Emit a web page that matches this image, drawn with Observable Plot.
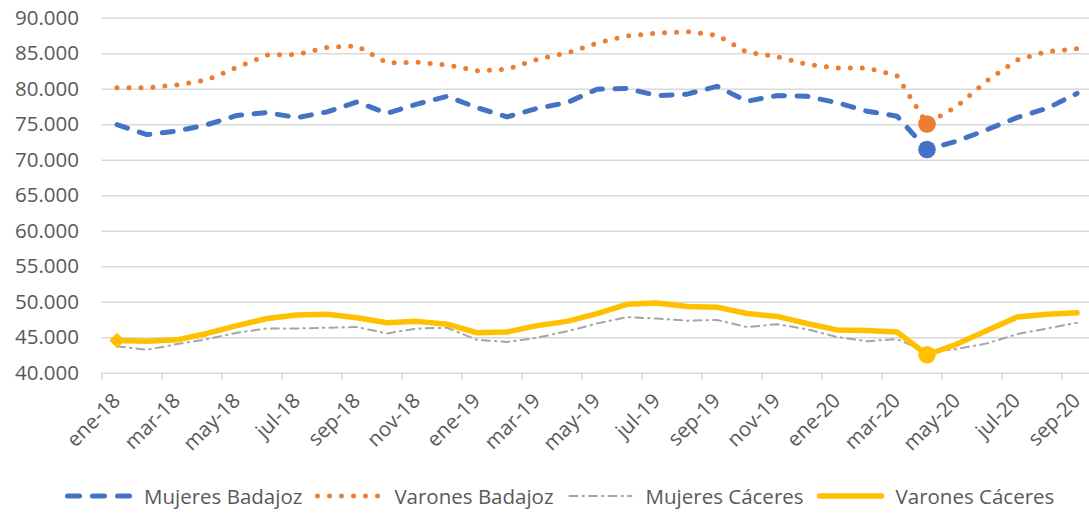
<!DOCTYPE html>
<html>
<head>
<meta charset="utf-8">
<script src="https://cdn.jsdelivr.net/npm/d3@7"></script>
<script src="https://cdn.jsdelivr.net/npm/@observablehq/plot@0.6"></script>
<style>
  html, body { margin: 0; padding: 0; background: #fff; }
  #chart { width: 1089px; height: 516px; overflow: hidden; position: relative; }
  .legend { height: 41px; display: flex; align-items: center; padding-left: 65px;
            font-family: "Open Sans", sans-serif; font-size: 20.5px; color: #595959; }
  .legend .item { display: flex; align-items: center; margin-right: 13px; }
  .legend svg { margin-right: 12px; overflow: visible; }
</style>
</head>
<body>
<div id="chart"></div>
<script>
const months = ["ene-18","feb-18","mar-18","abr-18","may-18","jun-18","jul-18","ago-18","sep-18","oct-18","nov-18","dic-18",
                "ene-19","feb-19","mar-19","abr-19","may-19","jun-19","jul-19","ago-19","sep-19","oct-19","nov-19","dic-19",
                "ene-20","feb-20","mar-20","abr-20","may-20","jun-20","jul-20","ago-20","sep-20"];

const mujeresBadajoz = [75000,73600,74100,75000,76300,76700,76000,76800,78200,76600,77900,79000,
                        77400,76100,77300,78100,80000,80100,79100,79300,80400,78300,79100,79000,
                        78100,76900,76200,71500,72700,74300,76000,77300,79400];
const varonesBadajoz = [80200,80200,80600,81300,83100,84800,84900,85900,86100,83700,83800,83400,
                        82600,82800,84200,85100,86500,87500,87900,88100,87600,85200,84600,83500,
                        83000,83000,81900,75100,77600,81200,84100,85300,85700];
const mujeresCaceres = [43800,43300,44100,44800,45700,46300,46300,46400,46500,45600,46300,46400,
                        44700,44400,45000,45900,47000,47900,47700,47400,47500,46500,46900,46200,
                        45100,44500,44800,43000,43400,44200,45500,46300,47100];
const varonesCaceres = [44600,44500,44700,45600,46700,47700,48200,48300,47800,47100,47300,46900,
                        45700,45800,46700,47300,48400,49700,49900,49400,49300,48400,48000,47000,
                        46100,46000,45800,42600,44100,46000,47900,48300,48500];

const yTicks = [40000,45000,50000,55000,60000,65000,70000,75000,80000,85000,90000];
const highlightMonth = "abr-20";
const startMonth = "ene-18";

const series = [
  {name: "Mujeres Badajoz", values: mujeresBadajoz, color: "#4472c4", width: 5, dash: "11 12.5", legendDash: "12 13", marker: true},
  {name: "Varones Badajoz", values: varonesBadajoz, color: "#ed7d31", width: 5, dash: "0 12", legendDash: "0 12", marker: true},
  {name: "Mujeres Cáceres", values: mujeresCaceres, color: "#a5a5a5", width: 2, dash: "8 5 1.5 5", legendDash: "8 5 1.5 5", marker: false},
  {name: "Varones Cáceres", values: varonesCaceres, color: "#ffc000", width: 5.5, dash: null, legendDash: null, marker: true}
];

const rows = series.map(s => s.values.map((v, i) => ({i, month: months[i], v, name: s.name})));
const fmt = d => d3.format(",")(d).replace(/,/g, ".");
const labelIdx = months.map((m, i) => i).filter(i => i % 2 === 0);
const boundaries = labelIdx.map(i => i - 0.5);

const marks = [
  Plot.gridY(yTicks, {stroke: "#d9d9d9", strokeOpacity: 1, strokeWidth: 1.4}),
  Plot.axisX({ticks: boundaries, tickSize: 7, tickFormat: () => "", label: null, stroke: "#d9d9d9", strokeWidth: 1.4, strokeOpacity: 1}),
  Plot.axisX({ticks: labelIdx, tickSize: 0, tickPadding: 24, tickRotate: -45, tickFormat: i => months[i], label: null, fill: "#595959"}),
  Plot.axisY(yTicks, {tickSize: 0, tickPadding: 23, tickFormat: fmt, label: null, fill: "#595959"})
];
series.forEach((s, k) => {
  const opts = {x: "i", y: "v", stroke: s.color, strokeWidth: s.width, strokeLinecap: "round", strokeLinejoin: "round"};
  if (s.dash) opts.strokeDasharray = s.dash;
  marks.push(Plot.line(rows[k], opts));
  if (s.marker) {
    marks.push(Plot.dot(rows[k].filter(d => d.month === highlightMonth), {x: "i", y: "v", r: 8.8, fill: s.color, stroke: null}));
  }
  if (k === 3) {
    marks.push(Plot.dot(rows[k].filter(d => d.month === startMonth), {x: "i", y: "v", r: 7, symbol: "diamond2", fill: s.color, stroke: null}));
  }
});

const plot = Plot.plot({
  width: 1089,
  height: 475,
  marginLeft: 101.5,
  marginRight: 0,
  marginTop: 17.7,
  marginBottom: 102.3,
  style: {fontFamily: "Open Sans, sans-serif", fontSize: "20.5px", color: "#595959", background: "#fff", overflow: "visible"},
  x: {type: "linear", domain: [-0.5, 32.5], range: [101.5, 1091.5], label: null},
  y: {type: "linear", domain: [40000, 90000], label: null},
  marks
});

const chart = document.getElementById("chart");
chart.appendChild(plot);

const legend = document.createElement("div");
legend.className = "legend";
series.forEach(s => {
  const item = document.createElement("div");
  item.className = "item";
  const svg = d3.create("svg").attr("width", 67).attr("height", 12);
  const line = svg.append("line").attr("x1", 2.5).attr("x2", 64.5).attr("y1", 6).attr("y2", 6)
    .attr("stroke", s.color).attr("stroke-width", s.width).attr("stroke-linecap", "round");
  if (s.legendDash) line.attr("stroke-dasharray", s.legendDash);
  item.appendChild(svg.node());
  const t = document.createElement("span");
  t.textContent = s.name;
  item.appendChild(t);
  legend.appendChild(item);
});
chart.appendChild(legend);
</script>
</body>
</html>
